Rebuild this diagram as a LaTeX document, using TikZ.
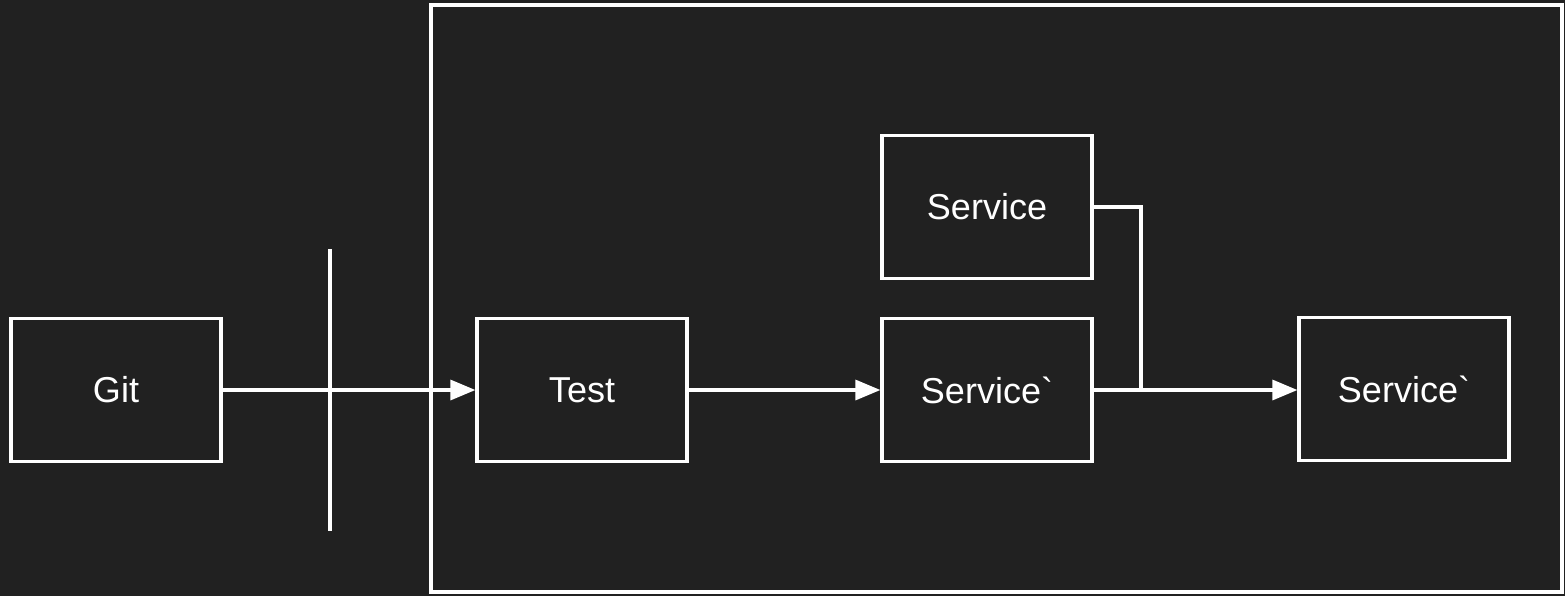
\documentclass[tikz,border=0pt]{standalone}
\usepackage{fontspec}
\setmainfont{Liberation Sans}[Ligatures=TeXOff]
\usetikzlibrary{arrows.meta}
\definecolor{bgdark}{HTML}{212121}
\tikzset{
  box/.style={draw=white, line width=0.065cm, fill=bgdark, text=white,
    minimum width=4.2cm, minimum height=2.86cm, inner sep=0pt,
    font=\fontsize{20.5}{24}\selectfont},
  wire/.style={draw=white, line width=0.065cm},
  flow/.style={wire, -{Triangle[length=0.5cm, width=0.4cm]}},
}
\begin{document}
\begin{tikzpicture}[x=0.02cm, y=-0.02cm]
			%%%%% START %%%%%
			
			\fill[bgdark] (0, 0) rectangle (1565, 596);
			\useasboundingbox (0, 0) rectangle (1565, 596);
			
			\draw[wire] (431, 5) rectangle (1562, 592);
			
			\node[box] (git) at (116, 390) {Git};
			\node[box] (test) at (582, 390) {Test};
			\node[box] (svcnew) at (987, 390) {Service\symbol{96}};
			\node[box] (svc) at (987, 207) {Service};
			\node[box] (svcout) at (1404, 389) {Service\symbol{96}};
			
			\coordinate (gatetop) at (330, 249);
			\coordinate (gatebot) at (330, 531);
			\coordinate (join) at (1141, 390);
			
			\draw[wire] (gatetop) -- (gatebot);
			
			\draw[flow] (git) -- (test);
			\draw[flow] (test) -- (svcnew);
			\draw[flow] (svcnew.east) -- (svcout.west |- svcnew.east);
			\draw[wire] (svc.east) -| (join);
			
			%%%%% END %%%%%
\end{tikzpicture}
\end{document}
